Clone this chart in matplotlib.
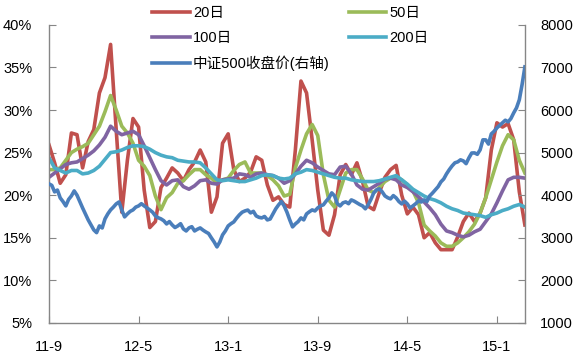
import numpy as np
import matplotlib
matplotlib.use('Agg')
from matplotlib import pyplot as plt
from matplotlib.font_manager import FontProperties
from matplotlib.ticker import FuncFormatter

# half-month steps from 2011-09 (volatility), quarter-month for the index
months = np.arange(86) * 0.5
months_idx = np.arange(171) * 0.25

vol_20 = [25.9, 23.8, 21.4, 22.4, 27.3, 27.1, 23.2, 26.3, 27.7, 32.0,
          33.8, 37.7, 27.7, 18.0, 24.1, 29.0, 28.0, 20.6, 16.2, 16.9,
          20.9, 22.0, 23.2, 22.6, 21.7, 23.0, 23.9, 25.3, 23.9, 18.0,
          19.8, 26.1, 27.2, 23.0, 21.6, 22.0, 22.7, 24.5, 24.1, 21.2,
          19.4, 19.8, 18.9, 18.6, 25.3, 33.4, 32.0, 26.5, 20.6, 15.9,
          15.3, 17.7, 22.4, 23.6, 22.4, 23.8, 21.6, 18.7, 18.3, 20.3,
          22.1, 23.0, 23.5, 20.0, 17.8, 18.6, 17.7, 15.0, 15.6, 14.4,
          13.6, 13.6, 13.6, 15.1, 16.9, 17.9, 16.9, 17.9, 19.7, 25.3,
          28.5, 28.0, 28.4, 26.5, 20.4, 16.5]

vol_50 = [23.0, 23.0, 23.2, 24.1, 25.0, 25.4, 25.7, 26.1, 27.1, 28.1,
          29.8, 31.7, 30.0, 28.1, 27.3, 26.1, 24.1, 23.4, 22.3, 19.9,
          18.3, 19.7, 20.3, 21.4, 21.7, 22.4, 23.0, 23.0, 22.4, 22.0,
          21.4, 21.8, 22.0, 22.9, 23.6, 23.9, 22.6, 22.6, 22.6, 22.3,
          21.8, 21.1, 19.9, 20.1, 23.2, 25.3, 27.2, 28.3, 27.0, 22.4,
          19.4, 18.6, 20.6, 22.6, 23.0, 23.0, 21.9, 20.6, 20.3, 20.9,
          21.6, 22.0, 22.1, 21.8, 21.2, 20.5, 19.1, 16.5, 15.8, 15.2,
          14.4, 14.0, 14.0, 14.4, 15.0, 15.7, 16.6, 17.9, 19.7, 21.8,
          23.9, 25.8, 27.1, 26.5, 24.1, 22.6]

vol_100 = [22.1, 22.6, 23.1, 23.6, 23.8, 23.9, 24.3, 24.7, 25.2, 25.9,
           26.8, 28.1, 27.5, 27.1, 27.3, 27.5, 27.1, 25.8, 24.4, 23.0,
           21.7, 21.2, 21.7, 21.8, 21.0, 20.7, 21.1, 21.7, 21.8, 21.4,
           21.3, 21.8, 21.9, 22.0, 22.5, 22.4, 22.1, 22.5, 22.6, 22.4,
           22.3, 22.0, 21.4, 21.7, 22.5, 23.4, 24.1, 23.8, 23.3, 22.9,
           22.5, 22.4, 23.3, 23.4, 22.5, 21.2, 20.7, 20.6, 21.0, 21.4,
           21.9, 22.0, 21.8, 21.2, 20.9, 20.4, 19.8, 19.2, 18.5, 17.7,
           16.6, 15.8, 15.6, 15.3, 15.1, 15.3, 15.7, 16.0, 16.9, 17.8,
           19.1, 20.5, 21.8, 22.1, 22.1, 22.0]

vol_200 = [24.4, 23.2, 22.9, 22.6, 22.9, 22.9, 22.5, 22.6, 22.9, 23.4,
           24.2, 25.0, 25.1, 25.3, 25.6, 25.8, 25.8, 25.7, 25.4, 25.0,
           24.7, 24.5, 24.4, 24.1, 24.0, 23.9, 23.9, 23.8, 23.2, 22.5,
           21.8, 21.7, 21.8, 21.7, 21.6, 21.6, 21.8, 22.0, 22.3, 22.4,
           22.3, 22.0, 21.9, 22.0, 22.5, 22.7, 23.0, 22.9, 22.7, 22.5,
           22.3, 22.1, 22.0, 22.0, 21.8, 21.7, 21.6, 21.6, 21.6, 21.7,
           21.9, 22.1, 22.3, 21.8, 21.3, 20.7, 20.3, 19.9, 19.6, 19.4,
           19.1, 18.7, 18.4, 18.2, 17.9, 17.8, 17.7, 17.6, 17.4, 17.7,
           17.9, 18.2, 18.4, 18.7, 18.9, 18.6]

csi500 = [4265, 4230, 4077, 4120, 3936, 3850, 3748, 3900, 3983, 4100,
          4000, 3850, 3700, 3560, 3419, 3300, 3184, 3120, 3278, 3230,
          3443, 3560, 3654, 3720, 3795, 3840, 3654, 3490, 3560, 3620,
          3654, 3720, 3748, 3800, 3748, 3700, 3654, 3600, 3513, 3470,
          3443, 3400, 3325, 3380, 3302, 3240, 3278, 3330, 3208, 3160,
          3231, 3260, 3160, 3200, 3231, 3180, 3137, 3100, 2997, 2900,
          2785, 2900, 3067, 3160, 3278, 3330, 3372, 3460, 3537, 3600,
          3630, 3650, 3584, 3620, 3513, 3480, 3466, 3500, 3419, 3440,
          3560, 3680, 3772, 3850, 3748, 3600, 3419, 3255, 3325, 3380,
          3466, 3420, 3560, 3610, 3654, 3630, 3701, 3750, 3772, 3860,
          3936, 4054, 3983, 3800, 3748, 3820, 3842, 3800, 3889, 3860,
          3819, 3780, 3748, 3680, 3772, 3900, 4054, 4124, 4148, 4080,
          3983, 3940, 3913, 3990, 3936, 3850, 3795, 3860, 3795, 3700,
          3748, 3800, 3866, 3840, 3889, 3850, 3983, 4050, 4124, 4200,
          4312, 4380, 4500, 4600, 4688, 4760, 4782, 4830, 4805, 4740,
          4876, 4990, 4993, 4960, 5064, 5300, 5298, 5200, 5439, 5500,
          5580, 5640, 5698, 5760, 5721, 5800, 5933, 6050, 6238, 6600,
          7013]

tick_pos = [0, 8, 16, 24, 32, 40]
tick_labels = ['11-9', '12-5', '13-1', '13-9', '14-5', '15-1']

colors = {'20': '#c0504d', '50': '#9bbb59', '100': '#8064a2',
          '200': '#4bacc6', 'idx': '#4a7ebb'}
axis_gray = '#868686'

plt.rcParams['font.family'] = ['Liberation Sans', 'Noto Sans CJK SC']
plt.rcParams['font.size'] = 10.5

fig, ax = plt.subplots(figsize=(5.8, 3.6), dpi=100)
fig.subplots_adjust(left=0.0845, right=0.905, bottom=0.103, top=0.931)

lw = 2.6
l20, = ax.plot(months, vol_20, color=colors['20'], lw=lw, label='20日')
l50, = ax.plot(months, vol_50, color=colors['50'], lw=lw, label='50日')
l100, = ax.plot(months, vol_100, color=colors['100'], lw=lw, label='100日')
l200, = ax.plot(months, vol_200, color=colors['200'], lw=lw, label='200日')

ax2 = ax.twinx()
lidx, = ax2.plot(months_idx, csi500, color=colors['idx'], lw=lw,
                 label='中证500收盘价(右轴)')

ax.set_xlim(0, 42.5)
ax.set_ylim(5, 40)
ax.set_yticks(range(5, 41, 5))
ax.yaxis.set_major_formatter(FuncFormatter(lambda v, p: '%d%%' % v))
ax.set_xticks(tick_pos)
ax.set_xticklabels(tick_labels)
ax2.set_ylim(1000, 8000)
ax2.set_yticks(range(1000, 8001, 1000))

for a in (ax, ax2):
    a.spines['top'].set_visible(False)
    for s in a.spines.values():
        s.set_color(axis_gray)
        s.set_linewidth(1)
ax.spines['right'].set_visible(False)
ax2.spines['left'].set_visible(False)
ax2.spines['bottom'].set_visible(False)

ax.tick_params(axis='y', direction='in', length=5, color=axis_gray, pad=12)
ax.tick_params(axis='x', direction='in', length=5, color=axis_gray, pad=12)
ax2.tick_params(axis='y', direction='in', length=5, color=axis_gray, pad=11)

handles = [l20, l100, lidx, l50, l200]
leg = ax2.legend(handles, [h.get_label() for h in handles], ncol=2,
                 loc='upper left', bbox_to_anchor=(0.262, 0.984),
                 bbox_transform=fig.transFigure, frameon=False,
                 borderpad=0, borderaxespad=0, handlelength=2.6,
                 handletextpad=0.2, labelspacing=0.75, columnspacing=1.3,
                 prop=FontProperties(family=['Liberation Sans', 'Noto Sans CJK SC'], size=10.5))

fig.savefig('out.png', dpi=100)
